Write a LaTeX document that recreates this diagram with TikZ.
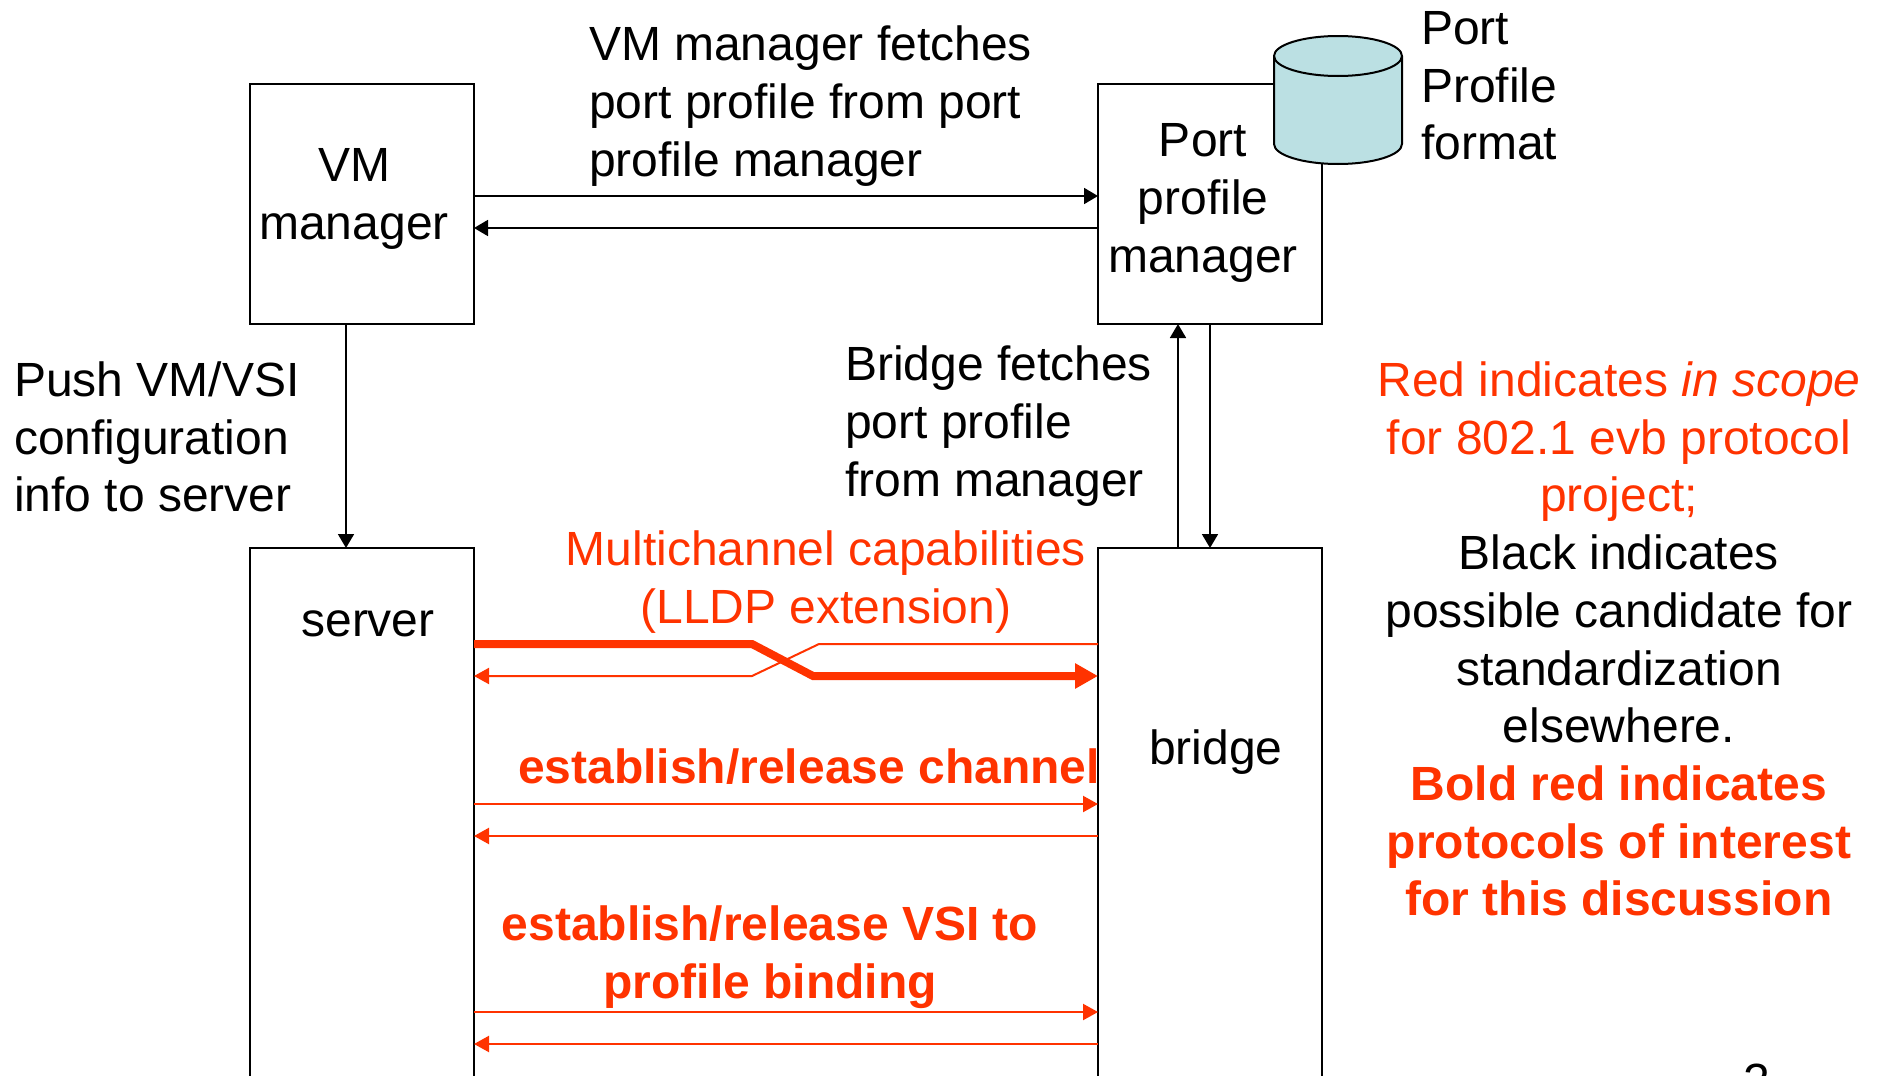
\documentclass[tikz,border=0pt]{standalone}
\usepackage{fontspec}
\setmainfont{Liberation Sans}
\usetikzlibrary{arrows.meta}
\definecolor{redtxt}{HTML}{FF3300}
\definecolor{cyl}{HTML}{BBE0E3}
\tikzset{
  x=0.5pt,y=-0.5pt,
  boxnode/.style={draw=black,line width=1pt,fill=white,rectangle,inner sep=0pt,outer sep=0pt,minimum width=112pt},
  lbl/.style={inner sep=0pt,outer sep=0pt,font=\fontsize{24pt}{28.85pt}\selectfont},
  lblc/.style={lbl,align=center},
  lbll/.style={lbl,align=left},
  redlbl/.style={text=redtxt},
  boldlbl/.style={text=redtxt,font=\fontsize{24pt}{28.85pt}\selectfont\bfseries},
  blackarrow/.style={draw=black,line width=0.9pt,-{Triangle[length=7pt,width=8pt]}},
  redarrow/.style={draw=redtxt,line width=1.1pt,-{Triangle[length=7.5pt,width=8pt]}},
  thickarrow/.style={draw=redtxt,line width=4pt,-{Triangle[length=11.5pt,width=12pt]}},
  thinred/.style={draw=redtxt,line width=1pt,-{Triangle[length=7.5pt,width=8pt]},line join=bevel},
}
\begin{document}
\begin{tikzpicture}
\clip (0,0) rectangle (1881,1076);
% boxes
\node[boxnode,anchor=north west,minimum height=120pt] (vm) at (250,84) {};
\node[boxnode,anchor=north west,minimum height=120pt] (ppm) at (1098,84) {};
\node[boxnode,anchor=north west,minimum height=280pt] (server) at (250,548) {};
\node[boxnode,anchor=north west,minimum height=280pt] (bridge) at (1098,548) {};
% cylinder
\path[fill=cyl,draw=black,line width=1pt] (1274,56) -- (1274,144) arc[start angle=180,end angle=360,x radius=64,y radius=-20] -- (1402,56) arc[start angle=0,end angle=180,x radius=64,y radius=-20] -- cycle;
\draw[line width=1pt] (1274,56) arc[start angle=180,end angle=360,x radius=64,y radius=-20];
% levels
\coordinate (ya) at (0,196);
\coordinate (yb) at (0,228);
\coordinate (yc) at (0,644);
\coordinate (yd) at (0,676);
\coordinate (ye) at (0,804);
\coordinate (yf) at (0,836);
\coordinate (yg) at (0,1012);
\coordinate (yh) at (0,1044);
\coordinate (xa) at (346,0);
\coordinate (xb) at (1178,0);
\coordinate (xc) at (1210,0);
\coordinate (ca) at (752,644);
\coordinate (cb) at (813,676);
\coordinate (cc) at (819,644);
\coordinate (cd) at (752,676);
% black connectors
\draw[blackarrow] (vm.east |- ya) -- (ppm.west |- ya);
\draw[blackarrow] (ppm.west |- yb) -- (vm.east |- yb);
\draw[blackarrow] (xa |- vm.south) -- (xa |- server.north);
\draw[blackarrow] (xb |- bridge.north) -- (xb |- ppm.south);
\draw[blackarrow] (xc |- ppm.south) -- (xc |- bridge.north);
% red crossing
\draw[thinred] (bridge.west |- yc) -- (cc) -- (cd) -- (server.east |- yd);
\draw[thickarrow] (server.east |- yc) -- (ca) -- (cb) -- (bridge.west |- yd);
% red arrows
\draw[redarrow] (server.east |- ye) -- (bridge.west |- ye);
\draw[redarrow] (bridge.west |- yf) -- (server.east |- yf);
\draw[redarrow] (server.east |- yg) -- (bridge.west |- yg);
\draw[redarrow] (bridge.west |- yh) -- (server.east |- yh);
% text
\node[lblc] (tvm) at (354,199) {VM\\manager};
\node[lbll,anchor=west] (tfetch) at (589,106) {VM manager fetches\\port profile from port\\profile manager};
\node[lblc] (tppm) at (1203,203) {Port\\profile\\manager};
\node[lbll,anchor=west] (tfmt) at (1421,86) {Port\\Profile\\format};
\node[lbll,anchor=west] (tpush) at (14,437) {Push VM/VSI\\configuration\\info to server};
\node[lbll,anchor=west] (tbridge) at (845,426) {Bridge fetches\\port profile\\from manager};
\node[lblc,redlbl] (tmulti) at (826,582) {Multichannel capabilities\\(LLDP extension)};
\node[lblc] (tserver) at (368,624) {server};
\node[lblc] (tbr) at (1216,752) {bridge};
\node[lblc,boldlbl] (tchan) at (809,767) {establish/release channel};
\node[lblc,boldlbl] (tvsi) at (770,957) {establish/release VSI to\\profile binding};
\node[lblc] (tlegend) at (1619,639) {{\color{redtxt}Red indicates \textit{in scope}}\\{\color{redtxt}for 802.1 evb protocol}\\{\color{redtxt}project;}\\Black indicates\\possible candidate for\\standardization\\elsewhere.\\{\color{redtxt}\bfseries Bold red indicates}\\{\color{redtxt}\bfseries protocols of interest}\\{\color{redtxt}\bfseries for this discussion}};
\node[lbl,anchor=north] (tpage) at (1757,1064) {2};
\end{tikzpicture}
\end{document}
